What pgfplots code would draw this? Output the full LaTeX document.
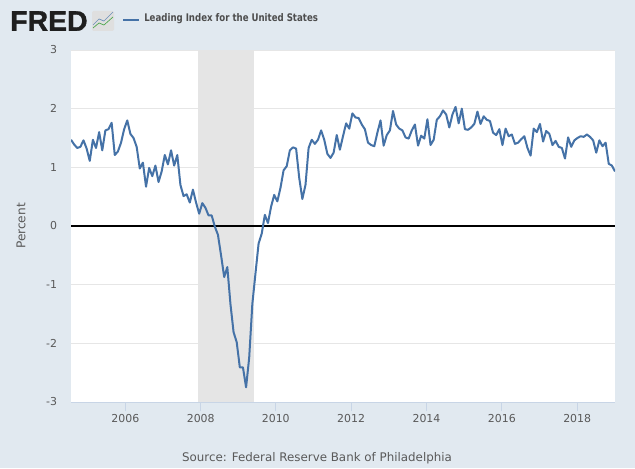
\documentclass[border=0pt]{standalone}
\usepackage{pgfplots}
\pgfplotsset{compat=1.18}
\usepackage{fontspec}
\setmainfont{DejaVu Sans}
\newfontfamily\condbold[FakeStretch=0.82]{DejaVu Sans Bold}
\newfontfamily\logofont[FakeBold=1.2]{Liberation Sans Bold}
\definecolor{bgblue}{HTML}{E1E9F0}
\definecolor{fredline}{HTML}{4572A7}
\definecolor{gridc}{HTML}{E6E6E6}
\definecolor{recess}{HTML}{E5E5E5}
\definecolor{txt}{HTML}{595959}
\definecolor{legendtxt}{HTML}{4D4D4D}
\definecolor{axisc}{HTML}{C8D5E6}
\begin{document}
\begin{tikzpicture}[x=0.75pt,y=0.75pt]
\fill[bgblue] (0,0) rectangle (635,468);
\begin{axis}[
  at={(53.25pt,49.5pt)}, anchor=south west,
  scale only axis, width=408pt, height=264pt,
  xmin=0, xmax=174, ymin=-3, ymax=3,
  axis y line*=left, axis x line*=bottom,
  y axis line style={draw=none},
  x axis line style={draw=axisc,line width=0.75pt,-},
  axis background/.style={fill=white},
  ytick style={draw=none},
  xtick style={draw=axisc,line width=0.75pt},
  xtick align=outside, major tick length=7pt,
  ymajorgrids, grid style={gridc,line width=0.75pt},
  ytick={-3,-2,-1,0,1,2,3},
  yticklabels={{-3},{-2},{-1},0,1,2,3},
  xtick={17.4,41.5,65.5,89.6,113.7,137.8,161.9},
  xticklabels={2006,2008,2010,2012,2014,2016,2018},
  ticklabel style={font=\fontsize{8.2pt}{10pt}\selectfont, text=txt},
  xticklabel style={yshift=1.5pt},
  yticklabel style={xshift=-7pt},
  ylabel={Percent},
  ylabel style={font=\fontsize{9.1pt}{11pt}\selectfont, text=txt, at={(axis description cs:0,0.5)}, yshift=30.5pt},
  clip=true,
]
\addplot[fill=recess,draw=none] coordinates {(40.5,-3)(40.5,3)(58.6,3)(58.6,-3)} --cycle;
\addplot[black,line width=1.5pt,forget plot] coordinates {(0,0)(174,0)};
\addplot[fredline,line width=1.5pt,line join=round] table[row sep=\\] {
x y\\
0 1.47\\ 1 1.39\\ 2 1.33\\ 3 1.35\\ 4 1.46\\ 5 1.32\\ 6 1.11\\ 7 1.47\\ 8 1.33\\ 9 1.60\\
10 1.29\\ 11 1.63\\ 12 1.65\\ 13 1.76\\ 14 1.21\\ 15 1.27\\ 16 1.42\\ 17 1.65\\ 18 1.80\\ 19 1.57\\
20 1.50\\ 21 1.35\\ 22 0.98\\ 23 1.08\\ 24 0.67\\ 25 0.99\\ 26 0.85\\ 27 1.03\\ 28 0.75\\ 29 0.93\\
30 1.21\\ 31 1.05\\ 32 1.29\\ 33 1.03\\ 34 1.21\\ 35 0.70\\ 36 0.51\\ 37 0.54\\ 38 0.40\\ 39 0.62\\
40 0.40\\ 41 0.21\\ 42 0.39\\ 43 0.31\\ 44 0.18\\ 45 0.18\\ 46 -0.01\\ 47 -0.15\\ 48 -0.50\\ 49 -0.87\\
50 -0.70\\ 51 -1.33\\ 52 -1.81\\ 53 -1.98\\ 54 -2.41\\ 55 -2.41\\ 56 -2.75\\ 57 -2.24\\ 58 -1.33\\ 59 -0.81\\
60 -0.30\\ 61 -0.13\\ 62 0.19\\ 63 0.05\\ 64 0.33\\ 65 0.53\\ 66 0.42\\ 67 0.65\\ 68 0.95\\ 69 1.02\\
70 1.29\\ 71 1.34\\ 72 1.32\\ 73 0.82\\ 74 0.46\\ 75 0.70\\ 76 1.33\\ 77 1.47\\ 78 1.40\\ 79 1.47\\
80 1.63\\ 81 1.47\\ 82 1.23\\ 83 1.16\\ 84 1.25\\ 85 1.55\\ 86 1.30\\ 87 1.53\\ 88 1.75\\ 89 1.66\\
90 1.92\\ 91 1.85\\ 92 1.84\\ 93 1.73\\ 94 1.65\\ 95 1.42\\ 96 1.38\\ 97 1.36\\ 98 1.59\\ 99 1.80\\
100 1.37\\ 101 1.55\\ 102 1.63\\ 103 1.96\\ 104 1.73\\ 105 1.66\\ 106 1.63\\ 107 1.51\\ 108 1.49\\ 109 1.63\\
110 1.73\\ 111 1.37\\ 112 1.54\\ 113 1.49\\ 114 1.82\\ 115 1.38\\ 116 1.47\\ 117 1.81\\ 118 1.87\\ 119 1.97\\
120 1.90\\ 121 1.68\\ 122 1.90\\ 123 2.03\\ 124 1.75\\ 125 2.00\\ 126 1.65\\ 127 1.64\\ 128 1.68\\ 129 1.74\\
130 1.95\\ 131 1.74\\ 132 1.87\\ 133 1.81\\ 134 1.79\\ 135 1.59\\ 136 1.55\\ 137 1.65\\ 138 1.38\\ 139 1.66\\
140 1.53\\ 141 1.56\\ 142 1.40\\ 143 1.42\\ 144 1.48\\ 145 1.53\\ 146 1.33\\ 147 1.20\\ 148 1.66\\ 149 1.60\\
150 1.74\\ 151 1.44\\ 152 1.62\\ 153 1.57\\ 154 1.38\\ 155 1.45\\ 156 1.35\\ 157 1.33\\ 158 1.15\\ 159 1.51\\
160 1.35\\ 161 1.46\\ 162 1.50\\ 163 1.53\\ 164 1.52\\ 165 1.56\\ 166 1.52\\ 167 1.46\\ 168 1.25\\ 169 1.46\\
170 1.36\\ 171 1.42\\ 172 1.06\\ 173 1.03\\ 174 0.93\\
};
\end{axis}
% header: logo and legend
\node[anchor=west,inner sep=0pt,text=black!88] at (10,447) {\logofont\fontsize{21.3pt}{23pt}\selectfont FRED};
\fill[rounded corners=1pt,gray!25] (92,437) rectangle (114,457);
\draw[green!50!black!70,line width=0.5pt] (93,440) -- (99,445) -- (104,443) -- (113,451);
\draw[fredline!80,line width=0.5pt] (93,443) -- (99,449) -- (104,447) -- (113,456);
\draw[fredline,line width=1.5pt] (123,448) -- (139,448);
\node[anchor=west,inner sep=0pt,text=legendtxt] at (144,449.5) {\condbold\fontsize{7.87pt}{9pt}\selectfont Leading Index for the United States};
\node[anchor=center,inner sep=0pt,text=txt] at (317,9.5) {\fontsize{8.9pt}{11pt}\selectfont Source: Federal Reserve Bank of Philadelphia};
\end{tikzpicture}
\end{document}
